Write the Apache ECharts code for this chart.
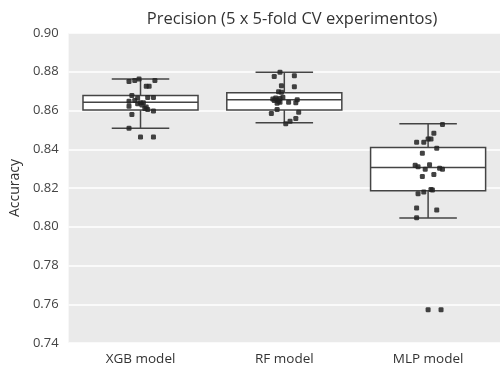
<!DOCTYPE html>
<html>
<head>
<meta charset="utf-8">
<script src="https://cdn.jsdelivr.net/npm/echarts@6/dist/echarts.min.js"></script>
<style>
  html, body { margin: 0; padding: 0; background: #fff; }
  #chart { width: 500px; height: 366px; }
</style>
</head>
<body>
<div id="chart"></div>
<script>
var models = ["XGB model", "RF model", "MLP model"];

// box stats: [lower whisker, q1, median, q3, upper whisker]
var xgbBox = [0.8508, 0.8602, 0.8643, 0.8678, 0.8763];
var rfBox = [0.8537, 0.8602, 0.8656, 0.8691, 0.8798];
var mlpBox = [0.8045, 0.8186, 0.8306, 0.8409, 0.8532];

// 25 runs per model (5 x 5-fold)
var xgbAcc = [0.8750, 0.8755, 0.8762, 0.8755, 0.8725, 0.8725, 0.8678, 0.8665, 0.8667, 0.8667,
  0.8648, 0.8640, 0.8640, 0.8618, 0.8605, 0.8610, 0.8597, 0.8622, 0.8580, 0.8508,
  0.8463, 0.8463, 0.8635, 0.8628, 0.8652];
var xgbJit = [-0.08, -0.04, -0.01, 0.10, 0.04, 0.06, -0.06, -0.02, 0.05, 0.09,
  -0.08, 0.00, 0.02, 0.04, 0.05, 0.03, 0.09, -0.08, -0.06, -0.08,
  0.00, 0.09, -0.02, 0.01, -0.04];

var rfAcc = [0.8798, 0.8776, 0.8780, 0.8728, 0.8722, 0.8697, 0.8694, 0.8660, 0.8655, 0.8648,
  0.8643, 0.8643, 0.8655, 0.8640, 0.8605, 0.8585, 0.8591, 0.8559, 0.8545, 0.8532,
  0.8665, 0.8662, 0.8668, 0.8652, 0.8638];
var rfJit = [-0.03, -0.07, 0.07, -0.02, 0.07, -0.04, -0.02, -0.08, -0.05, -0.04,
  -0.03, 0.03, 0.09, 0.08, -0.05, -0.09, 0.10, 0.08, 0.04, 0.01,
  -0.06, -0.03, -0.01, -0.07, -0.05];

var mlpAcc = [0.8528, 0.8482, 0.8453, 0.8453, 0.8436, 0.8436, 0.8405, 0.8380, 0.8318, 0.8320,
  0.8297, 0.8310, 0.8297, 0.8302, 0.8270, 0.8260, 0.8192, 0.8190, 0.8180, 0.8170,
  0.8097, 0.8087, 0.8046, 0.7571, 0.7571];
var mlpJit = [0.10, 0.04, 0.02, 0.00, -0.03, -0.08, 0.06, -0.04, -0.09, 0.01,
  -0.02, -0.07, 0.10, 0.08, 0.04, -0.04, 0.02, 0.03, -0.03, -0.07,
  -0.08, 0.06, -0.08, 0.00, 0.09];

var yTicks = { min: 0.74, max: 0.90, step: 0.02 };

var boxes = [xgbBox, rfBox, mlpBox];
var accs = [xgbAcc, rfAcc, mlpAcc];
var jits = [xgbJit, rfJit, mlpJit];

var boxData = boxes.map(function (b, i) { return [i].concat(b); });
var pointData = [];
accs.forEach(function (arr, i) {
  arr.forEach(function (v, k) { pointData.push([i + jits[i][k], v]); });
});

var edge = "#444444";
var font = "Open Sans";

function renderBox(params, api) {
  var i = api.value(0);
  var lo = api.coord([i, api.value(1)]);
  var q1 = api.coord([i, api.value(2)]);
  var md = api.coord([i, api.value(3)]);
  var q3 = api.coord([i, api.value(4)]);
  var hi = api.coord([i, api.value(5)]);
  var band = api.size([1, 0])[0];
  var half = band * 0.4;
  var cap = band * 0.2;
  var cx = lo[0];
  var ls = { stroke: edge, lineWidth: 1.5, fill: null };
  return {
    type: "group",
    children: [
      { type: "line", shape: { x1: cx, y1: q1[1], x2: cx, y2: lo[1] }, style: ls },
      { type: "line", shape: { x1: cx, y1: q3[1], x2: cx, y2: hi[1] }, style: ls },
      { type: "line", shape: { x1: cx - cap, y1: lo[1], x2: cx + cap, y2: lo[1] }, style: ls },
      { type: "line", shape: { x1: cx - cap, y1: hi[1], x2: cx + cap, y2: hi[1] }, style: ls },
      { type: "rect", shape: { x: cx - half, y: q3[1], width: half * 2, height: q1[1] - q3[1] },
        style: { fill: "#ffffff", stroke: edge, lineWidth: 1.5 } },
      { type: "line", shape: { x1: cx - half, y1: md[1], x2: cx + half, y2: md[1] }, style: ls }
    ]
  };
}

var chart = echarts.init(document.getElementById("chart"));
var option = {
  animation: false,
  backgroundColor: "#ffffff",
  textStyle: { fontFamily: font },
  title: {
    text: "Precision (5 x 5-fold CV experimentos)",
    left: 287,
    textAlign: "center",
    top: 6,
    textStyle: { fontSize: 16.5, fontWeight: "normal", color: "#333333", fontFamily: font }
  },
  grid: { left: 66, top: 33, width: 440, height: 312, backgroundColor: "#eaeaea", show: true, borderWidth: 0 },
  xAxis: [{
    type: "category",
    data: models,
    axisLine: { show: false },
    axisTick: { show: false },
    splitLine: { show: false },
    axisLabel: { color: "#333333", fontSize: 13.5, margin: 9, fontFamily: font }
  }, {
    type: "value",
    min: -0.5,
    max: 2.5,
    show: false
  }],
  yAxis: {
    type: "value",
    min: yTicks.min,
    max: yTicks.max,
    interval: yTicks.step,
    name: "Accuracy",
    nameLocation: "middle",
    nameRotate: 90,
    nameGap: 44,
    nameTextStyle: { fontSize: 14, color: "#333333", fontFamily: font },
    axisLine: { show: false },
    axisTick: { show: false },
    axisLabel: {
      color: "#444444", fontSize: 13, margin: 10, fontFamily: font,
      formatter: function (v) { return v.toFixed(2); }
    },
    splitLine: { lineStyle: { color: "#ffffff", width: 1.5 } }
  },
  series: [{
    type: "custom",
    xAxisIndex: 0,
    renderItem: renderBox,
    data: boxData,
    z: 2
  }, {
    type: "scatter",
    xAxisIndex: 1,
    symbol: "roundRect",
    symbolSize: 5,
    itemStyle: { color: "#222222", opacity: 0.85 },
    data: pointData,
    z: 3
  }]
};
chart.setOption(option);
</script>
</body>
</html>
